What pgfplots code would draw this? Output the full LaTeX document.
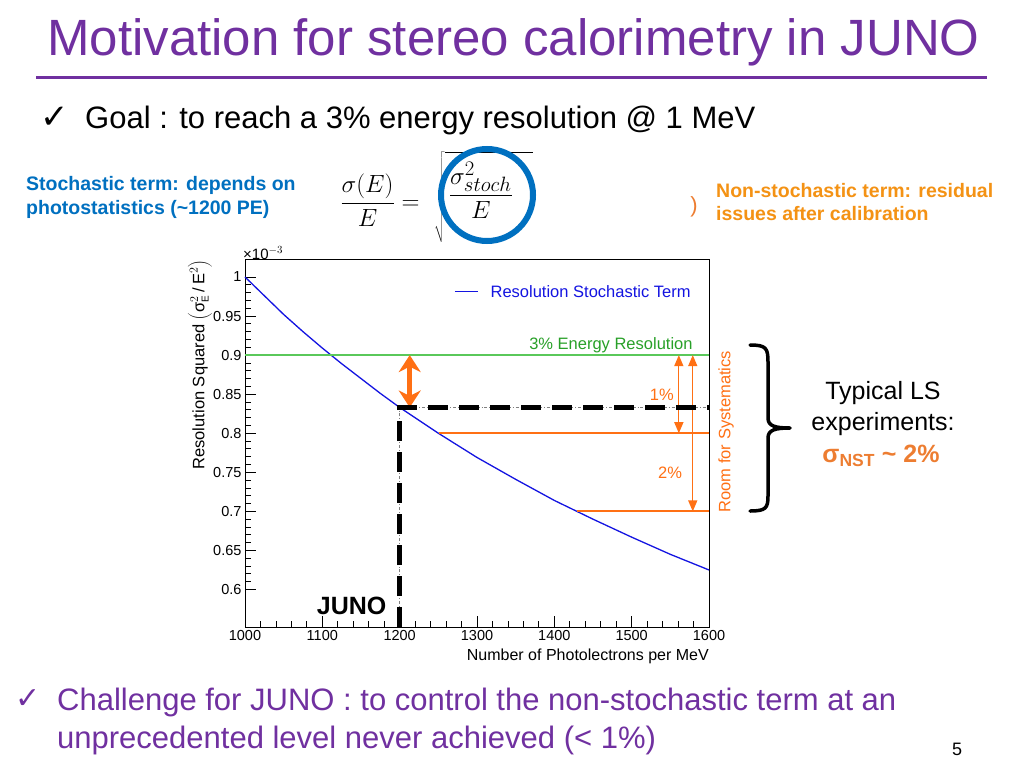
\documentclass[border=0pt]{standalone}
\usepackage{pgfplots}
\pgfplotsset{compat=1.18}
\usepackage{pgfplotstable}
\usepackage{fontspec}
\setmainfont{Liberation Sans}
\newfontfamily\dejavu{DejaVu Sans}
\usetikzlibrary{arrows.meta}
\definecolor{slidepurple}{RGB}{112,48,160}
\definecolor{slideblue}{RGB}{0,112,192}
\definecolor{slideorange}{RGB}{244,146,20}
\definecolor{nstorange}{RGB}{237,125,49}
\definecolor{rootorange}{RGB}{255,112,20}
\definecolor{rootgreen}{RGB}{40,160,40}
\definecolor{rootgreenline}{RGB}{90,200,90}
\definecolor{rootblue}{RGB}{20,20,225}
\definecolor{circleblue}{RGB}{0,112,192}

\pgfplotstableread{
x y
1000 1.000
1025 0.976
1050 0.952
1075 0.930
1100 0.909
1125 0.889
1150 0.870
1175 0.851
1200 0.833
1250 0.800
1300 0.769
1350 0.741
1400 0.714
1450 0.690
1500 0.667
1550 0.645
1600 0.625
}\stochdata

\begin{document}
\begin{tikzpicture}[x=1pt,y=1pt]
\path[use as bounding box, fill=white] (0,0) rectangle (1024,-768);

% ---------- slide text ----------
\node[anchor=base west, inner sep=0, text=slidepurple, font=\fontsize{51}{60}\selectfont] at (47,-56) {Motivation for stereo calorimetry in JUNO};
\draw[slidepurple, line width=3pt] (36,-77) -- (987,-77);
\node[inner sep=0, font=\dejavu\fontsize{34}{36}\selectfont] at (55,-118) {✓};
\node[anchor=base west, inner sep=0, font=\fontsize{31}{36}\selectfont] at (85,-128) {Goal : to reach a 3\% energy resolution @ 1 MeV};

\node[anchor=base west, inner sep=0, text=slideblue, font=\bfseries\fontsize{19.5}{24}\selectfont] at (26,-190) {Stochastic term: depends on};
\node[anchor=base west, inner sep=0, text=slideblue, font=\bfseries\fontsize{19.5}{24}\selectfont] at (26,-214) {photostatistics (\textasciitilde1200 PE)};

\node[anchor=base west, inner sep=0, text=slideorange, font=\bfseries\fontsize{19.5}{24}\selectfont] at (716,-197) {Non-stochastic term: residual};
\node[anchor=base west, inner sep=0, text=slideorange, font=\bfseries\fontsize{19.5}{24}\selectfont] at (716,-220) {issues after calibration};
\node[inner sep=0, text=nstorange, font=\fontsize{22}{22}\selectfont] at (694,-207) {)};

% formula
\node[inner sep=0, font=\fontsize{32}{38}\selectfont] at (380,-200) {$\displaystyle\frac{\sigma(E)}{E}=$};
\node[anchor=west, inner sep=0, font=\fontsize{28}{32}\selectfont] at (434,-197) {$\displaystyle\sqrt{\rule[-40pt]{0pt}{84pt}\,\frac{\sigma^2_{stoch}}{E}\hspace{20pt}}$};
\draw[circleblue, line width=6pt] (487,-195) circle (46);

% brace and typical LS
\draw[black, line width=3.5pt, line cap=round]
  (750,-345) .. controls (766,-345) and (768,-348) .. (768,-362)
  -- (768,-418) .. controls (768,-426) and (775,-428) .. (790,-428)
  (790,-428) .. controls (775,-428) and (768,-430) .. (768,-438)
  -- (768,-496) .. controls (768,-508) and (766,-511) .. (750,-511);
\node[font=\fontsize{25}{30}\selectfont] at (883,-393) {Typical LS};
\node[font=\fontsize{25}{30}\selectfont] at (883,-424) {experiments:};
\node[text=nstorange, font=\bfseries\fontsize{25}{30}\selectfont] at (881,-456) {σ\textsubscript{NST} \textasciitilde{} 2\%};

% bottom
\node[inner sep=0, text=slidepurple, font=\dejavu\fontsize{30}{32}\selectfont] at (28,-699) {✓};
\node[anchor=base west, inner sep=0, text=slidepurple, font=\fontsize{31}{36}\selectfont] at (57,-710) {Challenge for JUNO : to control the non-stochastic term at an};
\node[anchor=base west, inner sep=0, text=slidepurple, font=\fontsize{31}{36}\selectfont] at (57,-748) {unprecedented level never achieved (< 1\%)};
\node[anchor=base, inner sep=0, font=\fontsize{18}{20}\selectfont] at (957,-755) {5};

% ---------- chart ----------
\begin{axis}[
  at={(245pt,-627pt)}, anchor=south west,
  scale only axis, width=464pt, height=368pt,
  xmin=1000, xmax=1600, ymin=0.552, ymax=1.023,
  clip=false,
  axis line style={black, line width=0.8pt},
  xtick={1000,1100,1200,1300,1400,1500,1600},
  ytick={0.6,0.65,0.7,0.75,0.8,0.85,0.9,0.95,1},
  minor x tick num=4, minor y tick num=4,
  tick align=inside, xtick pos=lower, ytick pos=left,
  major tick length=11pt, minor tick length=6pt,
  tick style={black, line width=0.8pt},
  ticklabel style={font=\fontsize{14.5}{16}\selectfont},
  /pgf/number format/assume math mode=true,
  yticklabel style={/pgf/number format/fixed, /pgf/number format/precision=2},
  xticklabel style={/pgf/number format/set thousands separator={}},
  scaled y ticks=false, scaled x ticks=false,
  legend style={at={(axis cs:1579,0.981)}, anchor=east, draw=none, fill=none,
    inner sep=0pt, font=\fontsize{16.5}{18}\selectfont, text=rootblue},
  legend image code/.code={\draw[#1] (0pt,0pt) -- (23pt,0pt); \path (33pt,0pt);},
]
\addplot[rootblue, line width=1.3pt, no marks] table[x=x,y=y] {\stochdata};
\addlegendentry{Resolution Stochastic Term}
\addplot[draw=rootgreenline, line width=1.4pt, no marks] coordinates {(1000,0.9) (1600,0.9)};
\addplot[draw=rootorange, line width=1.6pt, no marks] coordinates {(1251,0.8) (1600,0.8)};
\addplot[draw=rootorange, line width=1.8pt, no marks] coordinates {(1429,0.7) (1600,0.7)};
\addplot[rootorange, line width=1.3pt, no marks, {Triangle[length=11pt,width=9pt]}-{Triangle[length=11pt,width=9pt]}] coordinates {(1561,0.9) (1561,0.8)};
\addplot[rootorange, line width=1.3pt, no marks, {Triangle[length=11pt,width=9pt]}-{Triangle[length=11pt,width=9pt]}] coordinates {(1579,0.9) (1579,0.7)};
\addplot[rootorange, line width=5pt, no marks, {Stealth[length=17pt,width=22pt]}-{Stealth[length=17pt,width=22pt]}] coordinates {(1213,0.9) (1213,0.833)};
% JUNO markers
\addplot[gray, line width=0.8pt, dash dot, no marks] coordinates {(1200,0.552) (1200,0.833) (1600,0.833)};
\addplot[black, line width=4.5pt, dash pattern=on 20pt off 11pt, no marks] coordinates {(1200,0.552) (1200,0.833) (1600,0.833)};

\node[anchor=base east, inner sep=0, text=rootgreen, font=\fontsize{16.5}{18}\selectfont] at (axis cs:1579,0.9067) {3\% Energy Resolution};
\node[text=rootorange, font=\fontsize{16.5}{18}\selectfont] at (axis cs:1539,0.849) {1\%};
\node[text=rootorange, font=\fontsize{16.5}{18}\selectfont] at (axis cs:1549.6,0.7495) {2\%};
\node[rotate=90, text=rootorange, font=\fontsize{16.5}{18}\selectfont] at (axis cs:1622,0.802) {Room for Systematics};
\node[font=\bfseries\fontsize{25}{30}\selectfont] at (axis cs:1138,0.5795) {JUNO};
\end{axis}

% axis labels
\node[anchor=west, inner sep=0, font=\fontsize{15}{16}\selectfont] at (243,-253) {×10$^{-3}$};
\node[anchor=base east, inner sep=0, font=\fontsize{16}{18}\selectfont] at (709,-660) {Number of Photolectrons per MeV};
\node[rotate=90, anchor=east, inner sep=0, font=\fontsize{16.5}{18}\selectfont] at (200,-260) {Resolution Squared $\left(\mbox{σ}^{2}_{\mbox{\fontsize{10}{10}\selectfont E}}\,\mbox{/}\,\mbox{E}^{2}\right)$};
\end{tikzpicture}
\end{document}
